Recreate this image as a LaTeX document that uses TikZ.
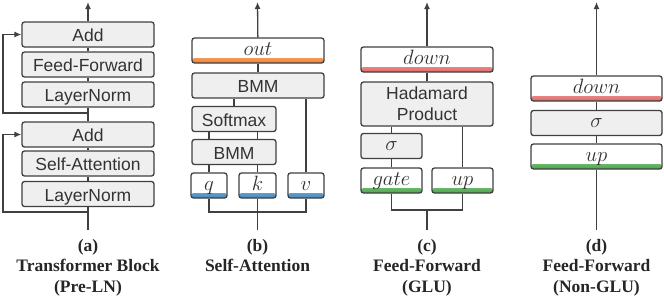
\documentclass[tikz,border=0pt]{standalone}
\usepackage{fontspec}
\setmainfont{Liberation Serif}
\setsansfont{Liberation Sans}
\usetikzlibrary{arrows.meta}
\definecolor{boxfill}{HTML}{EFEFEF}
\definecolor{boxline}{HTML}{404040}
\definecolor{txt}{HTML}{333333}
\definecolor{capt}{HTML}{262626}
\definecolor{cOrange}{HTML}{F07F2E}
\definecolor{cBlue}{HTML}{3D85C0}
\definecolor{cRed}{HTML}{E06666}
\definecolor{cGreen}{HTML}{46A546}
\begin{document}
\begin{tikzpicture}[x=1pt,y=-1pt,
  blk/.style={draw=boxline, line width=1.3pt, rounded corners=2.5pt, fill=boxfill,
    text=txt, font=\sffamily\fontsize{17.5}{21}\selectfont, inner sep=0pt,
    minimum height=25pt, align=center, text height=15pt, text depth=1pt},
  mathtxt/.style={font=\fontsize{20}{24}\selectfont, text height=12pt, text depth=3pt},
  mblk/.style={blk, mathtxt, fill=white,
    path picture={\shade[top color=#1!20, bottom color=#1]
      ([yshift=-1pt]path picture bounding box.south west) rectangle
      ([yshift=5pt]path picture bounding box.south east);}},
  ln/.style={draw=boxline, line width=1.3pt},
  arr/.style={-{Latex[length=7pt,width=6pt]}},
  captxt/.style={font=\bfseries\fontsize{17.5}{20.5}\selectfont, text=capt, align=center,
    anchor=north, inner sep=0pt}
]
\useasboundingbox (0,0) rectangle (664,298);

% ---------------- (a) Transformer block ----------------
\node[blk, minimum width=132pt] (aAdd1) at (88,34.5) {Add};
\node[blk, minimum width=132pt] (aFF)   at (88,64.5) {Feed-Forward};
\node[blk, minimum width=132pt] (aLN1)  at (88,94.5) {LayerNorm};
\node[blk, minimum width=132pt] (aAdd2) at (88,134.5) {Add};
\node[blk, minimum width=132pt] (aSA)   at (88,163.5) {Self-Attention};
\node[blk, minimum width=132pt] (aLN2)  at (88,194) {LayerNorm};
\coordinate (aIn) at (88,230);
\coordinate (aTop) at (88,2);
\coordinate (aS1) at (88,212);
\coordinate (aS1c) at (3,212);
\coordinate (aS2) at (88,113);
\coordinate (aS2c) at (3,113);
\draw[ln] (aIn) -- (aLN2);
\draw[ln] (aLN2) -- (aSA);
\draw[ln] (aSA) -- (aAdd2);
\draw[ln] (aAdd2) -- (aLN1);
\draw[ln] (aLN1) -- (aFF);
\draw[ln] (aFF) -- (aAdd1);
\draw[ln,arr] (aAdd1) -- (aTop);
\draw[ln,arr] (aS1) -- (aS1c) |- (aAdd2.west);
\draw[ln,arr] (aS2) -- (aS2c) |- (aAdd1.west);

% ---------------- (b) Self-attention ----------------
\node[mblk=cOrange, minimum width=132pt] (bOut) at (258,50.5) {$out$};
\node[blk, minimum width=132pt] (bBMM1) at (258,85.5) {BMM};
\node[blk, minimum width=84pt] (bSm) at (234,119) {Softmax};
\node[blk, minimum width=84pt] (bBMM2) at (234,152) {BMM};
\node[mblk=cBlue, minimum width=36pt] (bQ) at (209,185.5) {$q$};
\node[mblk=cBlue, minimum width=37pt] (bK) at (257.5,185.5) {$k$};
\node[mblk=cBlue, minimum width=36pt] (bV) at (306,185.5) {$v$};
\coordinate (bIn) at (257.5,230);
\coordinate (bJ) at (257.5,212);
\coordinate (bTop) at (257.5,2);
\draw[ln] (bIn) -- (bK);
\draw[ln] (bQ.south) -- (bQ.south |- bJ) -- (bV.south |- bJ) -- (bV.south);
\draw[ln] (bQ) -- (bQ |- bBMM2.south);
\draw[ln] (bK) -- (bK |- bBMM2.south);
\draw[ln] (bBMM2.north -| bQ) -- (bSm.south -| bQ);
\draw[ln] (bBMM2.north -| bK) -- (bSm.south -| bK);
\draw[ln] (bSm) -- (bSm |- bBMM1.south);
\draw[ln] (bV) -- (bV |- bBMM1.south);
\draw[ln] (bBMM1.north -| bOut) -- (bOut);
\draw[ln,arr] (bOut) -- (bTop);

% ---------------- (c) Feed-forward GLU ----------------
\node[mblk=cRed, minimum width=132pt] (cDown) at (427,59.5) {$down$};
\node[draw=boxline, line width=1.3pt, rounded corners=2.5pt, fill=boxfill,
    text=txt, font=\sffamily\fontsize{17.5}{21}\selectfont, inner sep=0pt,
    align=center, minimum width=132pt, minimum height=44pt] (cHad) at (427,104) {Hadamard\\Product};
\node[blk, mathtxt, minimum width=61pt] (cSig) at (391.5,146) {$\sigma$};
\node[mblk=cGreen, minimum width=61pt] (cGate) at (391.5,180.5) {$gate$};
\node[mblk=cGreen, minimum width=61pt] (cUp) at (462.5,180.5) {$up$};
\coordinate (cIn) at (427,230);
\coordinate (cJ) at (427,210);
\coordinate (cTop) at (427,2);
\draw[ln] (cIn) -- (cJ);
\draw[ln] (cGate.south) -- (cGate.south |- cJ) -- (cUp.south |- cJ) -- (cUp.south);
\draw[ln] (cGate) -- (cSig);
\draw[ln] (cSig) -- (cSig |- cHad.south);
\draw[ln] (cUp) -- (cUp |- cHad.south);
\draw[ln] (cHad) -- (cDown);
\draw[ln,arr] (cDown) -- (cTop);

% ---------------- (d) Feed-forward non-GLU ----------------
\node[mblk=cRed, minimum width=131pt] (dDown) at (596.5,88.5) {$down$};
\node[blk, mathtxt, minimum width=131pt] (dSig) at (596.5,123) {$\sigma$};
\node[mblk=cGreen, minimum width=131pt] (dUp) at (596.5,156.5) {$up$};
\coordinate (dIn) at (596.5,230);
\coordinate (dTop) at (596.5,2);
\draw[ln] (dIn) -- (dUp);
\draw[ln] (dUp) -- (dSig);
\draw[ln] (dSig) -- (dDown);
\draw[ln,arr] (dDown) -- (dTop);

% ---------------- captions ----------------
\node[captxt] (capA) at (88,239) {(a)\\Transformer Block\\(Pre-LN)};
\node[captxt] (capB) at (257.5,239) {(b)\\Self-Attention};
\node[captxt] (capC) at (427,239) {(c)\\Feed-Forward\\(GLU)};
\node[captxt] (capD) at (596.5,239) {(d)\\Feed-Forward\\(Non-GLU)};
\end{tikzpicture}
\end{document}
